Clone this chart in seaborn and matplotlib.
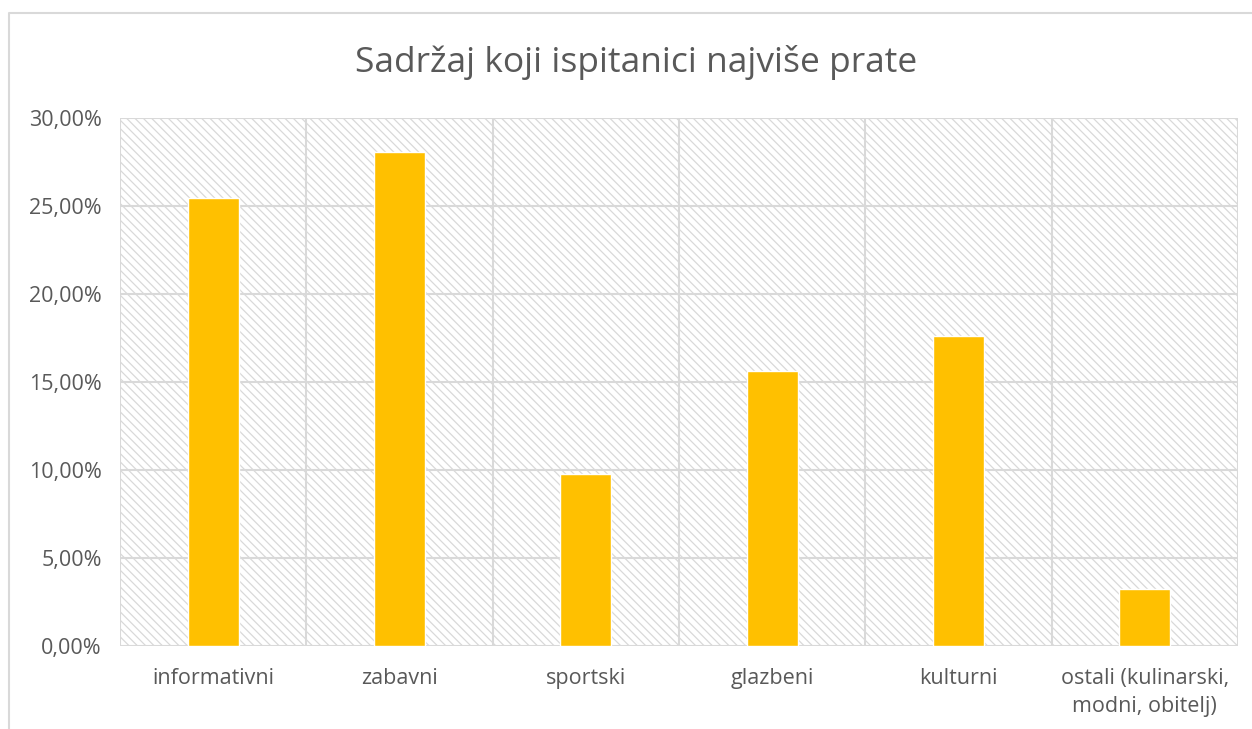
import seaborn as sns
import matplotlib
import matplotlib.pyplot as plt
from matplotlib import patches, lines
from matplotlib.ticker import FuncFormatter
import numpy as np

# data
categories = ["informativni", "zabavni", "sportski", "glazbeni", "kulturni",
              "ostali (kulinarski,\nmodni, obitelj)"]
shares = [25.45, 28.07, 9.77, 15.63, 17.61, 3.24]
y_ticks = [0, 5, 10, 15, 20, 25, 30]

GOLD = "#FFC000"
TEXT = "#595959"
GRID = "#D9D9D9"

sns.set_style("white")
plt.rcParams["font.family"] = ["Open Sans", "DejaVu Sans"]
plt.rcParams["hatch.color"] = "#DEDEDE"
plt.rcParams["hatch.linewidth"] = 0.9

fig = plt.figure(figsize=(12.52, 7.29), dpi=100)
ax = fig.add_axes([120 / 1252, 1 - 646 / 729, (1238 - 120) / 1252, (646 - 118) / 729])

# hatched background of plot area
ax.add_patch(patches.Rectangle((0, 0), 1, 1, transform=ax.transAxes,
                               facecolor="white", edgecolor=GRID, hatch="\\\\\\\\",
                               lw=0, zorder=0))

sns.barplot(x=categories, y=shares, color=GOLD, saturation=1, width=0.275,
            ax=ax, zorder=3)

ax.set_xlim(-0.5, len(categories) - 0.5)
ax.set_ylim(0, 30)
ax.set_yticks(y_ticks)
ax.yaxis.set_major_formatter(FuncFormatter(lambda v, p: f"{v:.2f}%".replace(".", ",")))

# grid
for yv in y_ticks:
    ax.axhline(yv, color=GRID, lw=1.5, zorder=1)
for xv in np.arange(-0.5, len(categories), 1.0):
    ax.axvline(xv, color=GRID, lw=1.5, zorder=1)

for s in ax.spines.values():
    s.set_visible(False)
ax.tick_params(length=0, colors=TEXT)
ax.tick_params(axis="y", labelsize=15.5, pad=13)
ax.tick_params(axis="x", labelsize=15.5, pad=16)
for lab in ax.get_xticklabels():
    lab.set_linespacing(1.4)
ax.set_xlabel("")
ax.set_ylabel("")

fig.text(0.508, 1 - 62 / 729, "Sadržaj koji ispitanici najviše prate", ha="center",
         va="center", fontsize=25.5, color=TEXT)

# chart border
fig.add_artist(lines.Line2D([9 / 1252, 9 / 1252, 1.0], [0, 1 - 13 / 729, 1 - 13 / 729],
                            transform=fig.transFigure, color=GRID, lw=1.5))

plt.savefig("out.png", dpi=100)
